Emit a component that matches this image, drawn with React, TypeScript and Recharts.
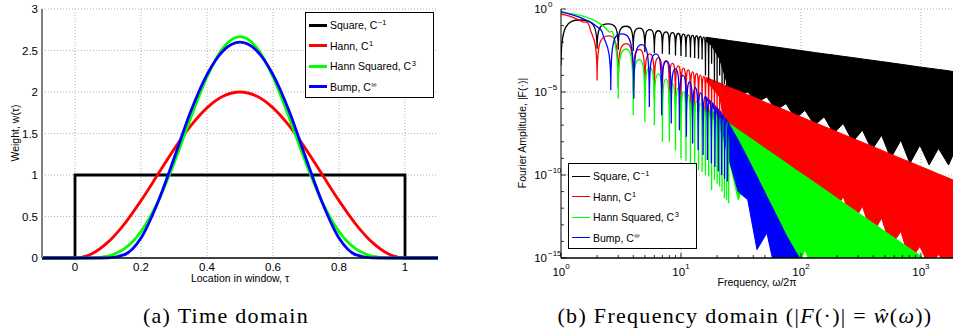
import React from "react";
import { Area, CartesianGrid, ComposedChart, Line, XAxis, YAxis } from "recharts";

const FONT = '"Liberation Sans", Arial, Helvetica, sans-serif';
const SERIF = '"Liberation Serif", "Times New Roman", serif';

const seriesNames = ["Square", "Hann", "Hann Squared", "Bump"];
const smoothness = ["\u22121", "1", "3", "\u221e"];
const seriesColors = ["#000000", "#ff0000", "#00ff00", "#0000ff"];

// ---- (a) window weights over the window location tau ----
const tau = [-0.1, 0, 0.05, 0.1, 0.15, 0.2, 0.25, 0.3, 0.35, 0.4, 0.45, 0.5, 0.55, 0.6, 0.65, 0.7, 0.75, 0.8, 0.85, 0.9, 0.95, 1, 1.1];
const hannWeight = [0, 0, 0.049, 0.191, 0.412, 0.691, 1, 1.309, 1.588, 1.809, 1.951, 2, 1.951, 1.809, 1.588, 1.309, 1, 0.691, 0.412, 0.191, 0.049, 0, 0];
const hannSqWeight = [0, 0, 0.002, 0.024, 0.113, 0.318, 0.667, 1.142, 1.681, 2.182, 2.538, 2.667, 2.538, 2.182, 1.681, 1.142, 0.667, 0.318, 0.113, 0.024, 0.002, 0, 0];
const bumpWeight = [0, 0, 0, 0.002, 0.04, 0.24, 0.66, 1.2, 1.76, 2.21, 2.5, 2.6, 2.5, 2.21, 1.76, 1.2, 0.66, 0.24, 0.04, 0.002, 0, 0, 0];
const squareTau = [-0.1, 0, 0, 1, 1, 1.1];
const squareWeight = [0, 0, 1, 1, 0, 0];

const timeTicks = [0, 0.2, 0.4, 0.6, 0.8, 1];
const weightTicks = [0, 0.5, 1, 1.5, 2, 2.5, 3];

// ---- (b) spectra: resolved side lobes (nulls and peaks) at low frequency ----
const squareLobeFreq = [1, 1.45, 2, 2.47, 3, 3.48, 4, 4.5, 5, 5.5, 6, 6.5, 7, 7.5, 8, 8.5, 9, 9.5, 10, 10.5, 11, 11.5, 12, 12.5, 13, 13.5, 14, 14.5, 15, 15.5,
  16, 16.5, 17, 17.5, 18, 18.5, 19, 19.5, 20, 20.5, 21, 21.5, 22, 22.5, 23, 23.5, 24, 24.5, 25];
const squareLobeAmp = [4e-4, 0.217, 4e-3, 0.128, 3.5e-3, 0.0913, 3e-3, 0.0707, 2.5e-3, 0.0579, 2.2e-3, 0.049, 2e-3, 0.0424, 1.8e-3, 0.0375, 1.6e-3, 0.0335, 1.5e-3, 0.0303, 1.3e-3, 0.0277, 1.2e-3, 0.0255, 1.1e-3, 0.0236, 1e-3, 0.022, 9e-4, 0.0205,
  1e-4, 0.0193, 3e-5, 0.0182, 5e-4, 0.0172, 2e-5, 0.0163, 4e-5, 0.0155, 1e-4, 0.0148, 2e-5, 0.0141, 3e-5, 0.0135, 1e-5, 0.013, 2e-5];

const hannLobeFreq = [1, 1.25, 1.5, 1.75, 2, 2.5, 3, 3.5, 4, 4.5, 5, 5.5, 6, 6.5, 7, 7.5, 8, 8.5, 9, 9.5, 10, 10.5, 11, 11.5, 12, 12.5, 13, 13.5, 14, 14.5, 15, 15.5,
  16, 16.5, 17, 17.5, 18, 18.5, 19, 19.5, 20, 20.5, 21, 21.5, 22, 22.5, 23, 23.5, 24, 24.5, 25];
const hannLobeAmp = [0.5, 0.32, 0.17, 0.062, 5e-5, 0.0243, 2e-5, 8.1e-3, 1e-5, 3.7e-3, 6e-6, 2e-3, 4e-6, 1.19e-3, 3e-6, 7.7e-4, 2e-6, 5.3e-4, 1.5e-6, 3.75e-4, 1.2e-6, 2.77e-4, 1e-6, 2.11e-4, 8e-7, 1.64e-4, 7e-7, 1.3e-4, 6e-7, 1.05e-4, 5e-7, 8.6e-5,
  4e-7, 7.1e-5, 3.5e-7, 5.96e-5, 3e-7, 5.04e-5, 2.7e-7, 4.3e-5, 2.4e-7, 3.7e-5, 2.2e-7, 3.21e-5, 2e-7, 2.8e-5, 1.8e-7, 2.46e-5, 1.6e-7, 2.17e-5, 1.5e-7];

const hannSqLobeFreq = [1, 1.5, 2, 2.5, 2.8, 3, 3.5, 4, 4.5, 5, 5.5, 6, 6.5, 7, 7.5, 8, 8.5, 9, 9.5, 10, 10.5, 11, 11.5, 12, 12.5, 13, 13.5, 14, 14.5, 15, 15.5,
  16, 16.5, 17, 17.5, 18, 18.5, 19, 19.5, 20, 20.5, 21, 21.5, 22, 22.5, 23, 23.5, 24, 24.5, 25];
const hannSqLobeAmp = [0.62, 0.388, 0.167, 0.0431, 0.0102, 4e-6, 3.9e-3, 4e-7, 9.1e-4, 1.5e-7, 3e-4, 1e-7, 1.24e-4, 1e-8, 5.9e-5, 1e-8, 3.1e-5, 3e-9, 1.74e-5, 1e-9, 1.05e-5, 7e-10, 6.6e-6, 5e-10, 4.3e-6, 3e-10, 2.9e-6, 2e-10, 2e-6, 1.5e-10, 1.45e-6,
  1e-10, 1.06e-6, 8e-11, 7.7e-7, 1.2e-11, 5.8e-7, 5e-11, 4.5e-7, 3e-11, 3.5e-7, 2e-11, 2.77e-7, 1e-11, 2.2e-7, 4e-12, 1.77e-7, 3e-12, 1.44e-7, 2e-12];

const bumpLobeFreq = [1, 1.5, 2, 2.25, 2.6, 3.2, 4.05, 4.7, 5.45, 6.2, 6.9, 7.6, 8.3, 9, 9.7, 10.4, 11.1, 11.8, 12.5, 13.2, 13.9, 14.6, 15.3, 15.95,
  16.6, 17.25, 17.9, 18.55, 19.2, 19.85, 20.5, 21.15, 21.8, 22.45, 23.1, 23.75, 24.4, 25];
const bumpLobeAmp = [0.69, 0.275, 0.085, 0.025, 1.26e-5, 0.0316, 4e-6, 7.1e-3, 1.26e-6, 2e-3, 4e-7, 7.1e-4, 1.26e-7, 2.5e-4, 5e-8, 1e-4, 2e-8, 4e-5, 7.9e-9, 1.8e-5, 3.2e-9, 8.9e-6, 1.6e-9, 5.4e-6,
  8e-10, 3.2e-6, 5e-10, 1.9e-6, 3e-10, 1.1e-6, 1.6e-10, 6.5e-7, 1e-10, 4e-7, 6e-11, 2.4e-7, 4e-11, 1.4e-7];

// ---- (b) spectra: dense region, top envelope and ragged lower edge ----
const bandFreq = [16, 18, 21, 25, 30, 36, 43, 52, 62, 75, 90, 108, 130, 156, 187, 225, 270, 325, 390, 470, 560, 680, 810, 980, 1170, 1400, 1700, 1850];
const squareTop = [2.0e-2, 1.77e-2, 1.52e-2, 1.27e-2, 1.06e-2, 8.8e-3, 7.4e-3, 6.1e-3, 5.1e-3, 4.2e-3, 3.5e-3, 2.9e-3, 2.4e-3, 2.0e-3, 1.7e-3, 1.4e-3, 1.18e-3, 9.8e-4, 8.2e-4, 6.8e-4, 5.7e-4, 4.7e-4, 3.9e-4, 3.2e-4, 2.7e-4, 2.3e-4, 1.9e-4, 1.7e-4];
const squareBottom = [1.26e-2, 6.3e-3, 1e-3, 1.6e-5, 6.3e-6, 1e-5, 2.5e-6, 5e-6, 7.9e-7, 2e-6, 2.5e-7, 7.9e-7, 1e-7, 3.2e-7, 3.2e-8, 1.26e-7, 1e-8, 5e-8, 3.2e-9, 2.5e-8, 1e-9, 1.26e-8, 5e-10, 6.3e-9, 4e-10, 4e-9, 4e-10, 1.6e-9];
const hannTop = [7.8e-5, 5.5e-5, 3.5e-5, 2.0e-5, 1.18e-5, 6.8e-6, 4.0e-6, 2.2e-6, 1.35e-6, 7.6e-7, 4.4e-7, 2.5e-7, 1.45e-7, 8.4e-8, 4.9e-8, 2.8e-8, 1.6e-8, 9.3e-9, 5.4e-9, 3.1e-9, 1.8e-9, 1.0e-9, 6.0e-10, 3.4e-10, 2.0e-10, 1.15e-10, 6.5e-11, 5.0e-11];
const hannBottom = [5e-5, 2e-5, 5e-6, 1e-8, 4e-9, 1.6e-9, 6.3e-10, 2.5e-10, 1e-10, 4e-11, 1.6e-11, 6.3e-12, 2.5e-12, 1e-11, 5e-13, 5e-12, 1.26e-13, 1.3e-12, 2.5e-14, 2.5e-13, 5e-15, 4e-14, 6.3e-16, 5e-15, 3.2e-16, 1.6e-15, 3.2e-16, 6.3e-16];
const hannSqTop = [1.2e-6, 6.8e-7, 3.1e-7, 1.32e-7, 5.2e-8, 2.1e-8, 8.7e-9, 3.3e-9, 1.4e-9, 5.4e-10, 2.1e-10, 8.7e-11, 3.5e-11, 1.4e-11, 5.6e-12, 2.2e-12, 8.9e-13, 3.5e-13, 1.4e-13, 5.5e-14, 2.3e-14, 8.7e-15, 3.6e-15, 1.4e-15, 5.8e-16, 2.3e-16, 8.9e-17, 5.9e-17];
const hannSqBottom = [8e-7, 3e-7, 8e-8, 1e-9, 3.2e-12, 1e-10, 3.2e-13, 3.2e-12, 1e-14, 3.2e-14, 1e-16, 3.2e-15, 1e-16, 6.3e-16, 1e-17, 1e-17, 1e-17, 1e-17, 1e-17, 1e-17, 1e-17, 1e-17, 1e-17, 1e-17, 1e-17, 1e-17, 1e-17, 1e-17];
const bumpTop = [5.6e-6, 2.5e-6, 7.9e-7, 1.26e-7, 1.26e-8, 1e-9, 7.9e-11, 5e-12, 4e-13, 2.5e-14, 2.5e-15, 3.2e-16, 3.2e-17, 1e-18, 1e-18, 1e-18, 1e-18, 1e-18, 1e-18, 1e-18, 1e-18, 1e-18, 1e-18, 1e-18, 1e-18, 1e-18, 1e-18, 1e-18];
const bumpBottom = [4e-6, 1.5e-6, 3e-7, 1e-9, 1e-11, 3.2e-12, 3.2e-15, 3.2e-14, 1e-16, 1e-17, 1e-17, 1e-17, 1e-17, 1e-19, 1e-19, 1e-19, 1e-19, 1e-19, 1e-19, 1e-19, 1e-19, 1e-19, 1e-19, 1e-19, 1e-19, 1e-19, 1e-19, 1e-19];

const freqTicks = [1, 10, 100, 1000];
const freqTickExps = ["0", "1", "2", "3"];
const freqMinorTicks = [2, 3, 4, 5, 6, 7, 8, 9, 20, 30, 40, 50, 60, 70, 80, 90, 200, 300, 400, 500, 600, 700, 800, 900];
const ampTicks = [1e-15, 1e-10, 1e-5, 1];
const ampTickExps = ["\u221215", "\u221210", "\u22125", "0"];
const ampMinorTicks = [1e-14, 1e-13, 1e-12, 1e-11, 1e-9, 1e-8, 1e-7, 1e-6, 1e-4, 1e-3, 1e-2, 1e-1];

const timeRows = (xs: number[], ys: number[]) => xs.map((x, i) => ({ x, y: ys[i] }));
const lobeRows = (fs: number[], as: number[]) => fs.map((f, i) => ({ f, a: as[i] }));

const bandRows = bandFreq.map((f, i) => ({
  f,
  square: [squareBottom[i], squareTop[i]],
  hann: [hannBottom[i], hannTop[i]],
  hannSq: [hannSqBottom[i], hannSqTop[i]],
  bump: [bumpBottom[i], bumpTop[i]],
}));

// Curve for sampled spectra: round tops at the lobe peaks, needle-thin nulls.
function lobeCurve(context: any) {
  let xs: number[] = [];
  let ys: number[] = [];
  const isNull = (i: number) => {
    const prev = i > 0 ? ys[i - 1] : -Infinity;
    const next = i < ys.length - 1 ? ys[i + 1] : -Infinity;
    return ys[i] >= prev && ys[i] >= next;
  };
  const isPeak = (i: number) =>
    i > 0 && i < ys.length - 1 && ys[i] <= ys[i - 1] && ys[i] <= ys[i + 1];
  const slope = (i: number) => {
    const n = xs.length;
    if (i === 0) return (ys[1] - ys[0]) / (xs[1] - xs[0]);
    if (i === n - 1) return (ys[n - 1] - ys[n - 2]) / (xs[n - 1] - xs[n - 2]);
    const s0 = (ys[i] - ys[i - 1]) / (xs[i] - xs[i - 1]);
    const s1 = (ys[i + 1] - ys[i]) / (xs[i + 1] - xs[i]);
    return (s0 + s1) / 2;
  };
  const control = (i: number, dir: number, dx: number, dy: number) => {
    if (isNull(i)) return [xs[i], ys[i] - 0.9 * dy];
    if (isPeak(i)) return [xs[i] + dir * 0.7 * dx, ys[i]];
    const m = slope(i);
    return [xs[i] + (dir * dx) / 3, ys[i] + (dir * m * dx) / 3];
  };
  return {
    areaStart() {},
    areaEnd() {},
    lineStart() {
      xs = [];
      ys = [];
    },
    point(x: number, y: number) {
      xs.push(+x);
      ys.push(+y);
    },
    lineEnd() {
      if (!xs.length) return;
      context.moveTo(xs[0], ys[0]);
      for (let i = 0; i < xs.length - 1; i++) {
        const dx = xs[i + 1] - xs[i];
        const dy = Math.abs(ys[i + 1] - ys[i]);
        const [ax, ay] = control(i, 1, dx, dy);
        const [bx, by] = control(i + 1, -1, dx, dy);
        context.bezierCurveTo(ax, ay, bx, by, xs[i + 1], ys[i + 1]);
      }
    },
  };
}

function FreqTick({ x, y, payload }: any) {
  const k = freqTicks.indexOf(payload.value);
  return (
    <g>
      <line x1={x} x2={x} y1={y} y2={y - (k >= 0 ? 5 : 3)} stroke="#000" strokeWidth={0.8} />
      {k >= 0 && (
        <text x={x} y={y + 18} textAnchor="middle" fontFamily={FONT} fontSize={11.5} fill="#000">
          10
          <tspan dy={-7} fontSize={8}>
            {freqTickExps[k]}
          </tspan>
        </text>
      )}
    </g>
  );
}

function AmpTick({ x, y, payload }: any) {
  const k = ampTicks.indexOf(payload.value);
  return (
    <g>
      <line x1={x} x2={x + (k >= 0 ? 5 : 3)} y1={y} y2={y} stroke="#000" strokeWidth={0.8} />
      {k >= 0 && (
        <g fontFamily={FONT} fill="#000">
          <text x={x - 14} y={y + 4} textAnchor="end" fontSize={11.5}>
            10
          </text>
          <text x={x - 13} y={y - 2} fontSize={8}>
            {ampTickExps[k]}
          </text>
        </g>
      )}
    </g>
  );
}

function ChartLegend({
  left,
  top,
  lineWidth,
}: {
  left: number;
  top: number;
  lineWidth: number;
}) {
  return (
    <div
      style={{
        position: "absolute",
        left,
        top,
        width: 129,
        height: 86,
        border: "1px solid #000",
        boxSizing: "border-box",
        background: "#fff",
        fontFamily: FONT,
        fontSize: 10.5,
        color: "#000",
      }}
    >
      {seriesNames.map((name, i) => (
        <div
          key={name}
          style={{
            position: "absolute",
            left: 3,
            top: 4 + i * 20.5,
            height: 16,
            display: "flex",
            alignItems: "center",
            whiteSpace: "nowrap",
          }}
        >
          <span
            style={{
              display: "inline-block",
              width: 18,
              height: lineWidth,
              background: seriesColors[i],
              marginRight: 3,
            }}
          />
          <span>
            {name}, C
            <span style={{ position: "relative", top: -4, fontSize: 7.5, marginLeft: 0.5 }}>
              {smoothness[i]}
            </span>
          </span>
        </div>
      ))}
    </div>
  );
}

function TimeDomainPanel() {
  const tickStyle = { fill: "#000", fontSize: 11.5, fontFamily: FONT };
  const weights = [squareWeight, hannWeight, hannSqWeight, bumpWeight];
  return (
    <div style={{ position: "absolute", left: 0, top: 0 }}>
      <ComposedChart width={450} height={330} margin={{ top: 9, right: 12, bottom: 42, left: 8 }}>
        <CartesianGrid
          horizontalValues={weightTicks.slice(1)}
          verticalValues={timeTicks}
          stroke="#b3b3b3"
          strokeDasharray="1 2"
        />
        <XAxis
          type="number"
          dataKey="x"
          domain={[-0.1, 1.1]}
          ticks={timeTicks}
          interval={0}
          height={30}
          tickSize={0}
          tickMargin={5}
          tickLine={false}
          tick={tickStyle}
          axisLine={{ stroke: "#000", strokeWidth: 1.5 }}
        />
        <YAxis
          type="number"
          domain={[0, 3]}
          ticks={weightTicks}
          interval={0}
          width={34}
          tickSize={0}
          tickMargin={4}
          tickLine={false}
          tick={tickStyle}
          axisLine={{ stroke: "#7f7f7f", strokeWidth: 2 }}
        />
        {weights.map((w, i) => (
          <Line
            key={seriesNames[i]}
            data={i === 0 ? timeRows(squareTau, squareWeight) : timeRows(tau, w)}
            dataKey="y"
            type={i === 0 ? "linear" : "monotone"}
            stroke={seriesColors[i]}
            strokeWidth={2.8}
            dot={false}
            activeDot={false}
            isAnimationActive={false}
          />
        ))}
      </ComposedChart>
    </div>
  );
}

function FrequencyPanel() {
  const lobes = [
    lobeRows(squareLobeFreq, squareLobeAmp),
    lobeRows(hannLobeFreq, hannLobeAmp),
    lobeRows(hannSqLobeFreq, hannSqLobeAmp),
    lobeRows(bumpLobeFreq, bumpLobeAmp),
  ];
  const bandKeys = ["square", "hann", "hannSq", "bump"];
  return (
    <div style={{ position: "absolute", left: 470, top: 0 }}>
      <ComposedChart
        width={483}
        height={330}
        data={bandRows}
        margin={{ top: 9, right: 0, bottom: 42, left: 0 }}
      >
        <CartesianGrid
          horizontalValues={[1, 1e-5, 1e-10]}
          verticalValues={[10, 100, 1000]}
          stroke="#b3b3b3"
          strokeDasharray="1 2"
        />
        <XAxis
          type="number"
          dataKey="f"
          scale="log"
          domain={[1, 1850]}
          allowDataOverflow
          ticks={[...freqTicks, ...freqMinorTicks]}
          interval={0}
          height={30}
          tickSize={0}
          tickMargin={0}
          tickLine={false}
          tick={<FreqTick />}
          axisLine={{ stroke: "#000", strokeWidth: 1.5 }}
        />
        <YAxis
          type="number"
          scale="log"
          domain={[1e-15, 1]}
          allowDataOverflow
          ticks={[...ampTicks, ...ampMinorTicks]}
          interval={0}
          width={91}
          tickSize={0}
          tickMargin={0}
          tickLine={false}
          tick={<AmpTick />}
          axisLine={{ stroke: "#000", strokeWidth: 1 }}
        />
        {bandKeys.map((key, i) => (
          <React.Fragment key={key}>
            <Area
              dataKey={key}
              type="linear"
              fill={seriesColors[i]}
              fillOpacity={1}
              stroke={seriesColors[i]}
              strokeWidth={1}
              dot={false}
              activeDot={false}
              isAnimationActive={false}
            />
            <Line
              data={lobes[i]}
              dataKey="a"
              type={lobeCurve as any}
              stroke={seriesColors[i]}
              strokeWidth={1.3}
              dot={false}
              activeDot={false}
              isAnimationActive={false}
            />
          </React.Fragment>
        ))}
      </ComposedChart>
    </div>
  );
}

const titleStyle: React.CSSProperties = {
  position: "absolute",
  fontFamily: FONT,
  fontSize: 10.5,
  color: "#000",
  whiteSpace: "nowrap",
  transform: "translate(-50%, -50%)",
};

const captionStyle: React.CSSProperties = {
  position: "absolute",
  fontFamily: SERIF,
  fontSize: 22,
  color: "#000",
  whiteSpace: "nowrap",
  letterSpacing: 1.3,
  transform: "translate(-50%, -50%)",
};

export default function App() {
  return (
    <div
      style={{
        position: "absolute",
        left: 0,
        top: 0,
        width: 953,
        height: 330,
        background: "#fff",
        overflow: "hidden",
        fontFamily: FONT,
      }}
    >
      <TimeDomainPanel />
      <FrequencyPanel />

      <div style={{ ...titleStyle, left: 15, top: 133, transform: "translate(-50%, -50%) rotate(-90deg)" }}>
        Weight, w(τ)
      </div>
      <div style={{ ...titleStyle, left: 240, top: 278 }}>Location in window, τ</div>
      <div style={{ ...titleStyle, left: 522, top: 133, transform: "translate(-50%, -50%) rotate(-90deg)" }}>
        Fourier Amplitude, |F(·)|
      </div>
      <div style={{ ...titleStyle, left: 757, top: 282 }}>Frequency, ω/2π</div>

      <ChartLegend left={305} top={12} lineWidth={3} />
      <ChartLegend left={568} top={163} lineWidth={1} />

      <div style={{ ...captionStyle, left: 226, top: 316 }}>(a) Time domain</div>
      <div style={{ ...captionStyle, left: 745, top: 316 }}>
        (b) Frequency domain (|<i>F</i>(·)| = <i>ŵ</i>(<i>ω</i>))
      </div>
    </div>
  );
}
